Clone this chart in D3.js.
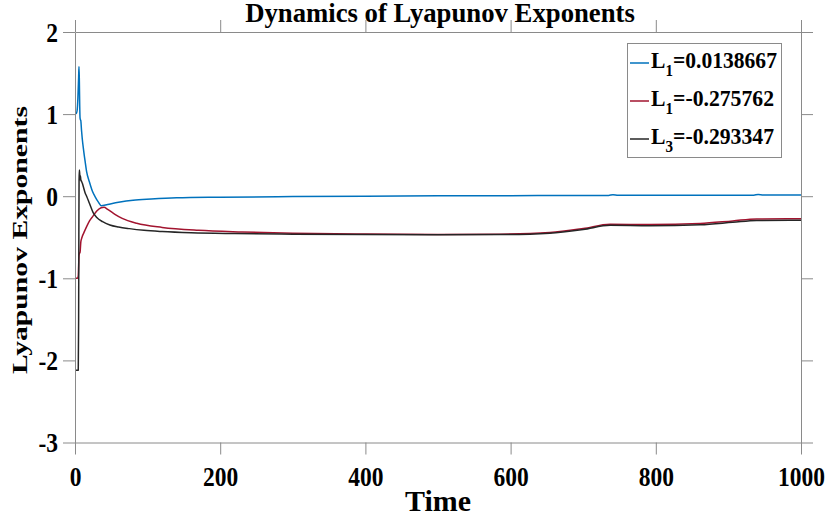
<!DOCTYPE html>
<html>
<head>
<meta charset="utf-8">
<script src="https://cdn.jsdelivr.net/npm/d3@7"></script>
<style>
  html, body { margin: 0; padding: 0; background: #fff; }
  svg text { font-family: "Times New Roman", Times, "Liberation Serif", "Nimbus Roman", serif; font-weight: bold; fill: #000; }
</style>
</head>
<body>
<svg id="chart" width="828" height="519"></svg>
<script>
// Axis ticks
const timeTicks = [0, 200, 400, 600, 800, 1000];
const expTicks = [-3, -2, -1, 0, 1, 2];

// Legend entries
const seriesNames = ["L", "L", "L"];
const seriesSubs = ["1", "1", "3"];
const finalValues = [0.0138667, -0.275762, -0.293347];
const seriesColors = ["#0072BD", "#A2142F", "#262626"];

// First exponent
const t1 = [0, 2, 3, 4, 5, 5.5, 6, 6.5, 7, 7.5, 8, 9, 10, 12, 14, 16, 20, 24, 28, 32, 36, 45, 60, 80, 105, 140, 200, 300, 400, 500, 600, 700, 735, 741, 748, 800, 870, 935, 941, 948, 1000];
const l1 = [1.0, 1.01, 1.05, 1.2, 1.45, 1.58, 1.4, 1.1, 0.95, 0.93, 0.92, 0.8, 0.7, 0.55, 0.42, 0.3, 0.17, 0.06, -0.01, -0.07, -0.115, -0.1, -0.075, -0.05, -0.035, -0.02, -0.012, -0.005, 0.0, 0.004, 0.007, 0.009, 0.01, 0.018, 0.011, 0.012, 0.013, 0.013, 0.02, 0.014, finalValues[0]];

// Second exponent
const t2 = [0, 3.5, 4.5, 5, 5.5, 6, 7, 8, 9, 10, 12, 16, 20, 25, 30, 36, 40, 45, 55, 65, 85, 120, 170, 230, 300, 400, 500, 585, 654, 700, 737, 792, 861, 906, 939, 1000];
const l2 = [-1.0, -1.0, -0.97, -0.85, -0.72, -0.7, -0.68, -0.56, -0.52, -0.49, -0.45, -0.37, -0.3, -0.24, -0.18, -0.14, -0.135, -0.16, -0.22, -0.27, -0.33, -0.38, -0.415, -0.435, -0.45, -0.46, -0.465, -0.462, -0.443, -0.394, -0.341, -0.346, -0.333, -0.301, -0.277, finalValues[1]];

// Third exponent
const t3 = [0, 4.5, 5, 5.3, 5.6, 6, 6.5, 7, 7.5, 8, 9, 10, 12, 14, 16, 20, 25, 30, 38, 48, 60, 75, 95, 120, 160, 220, 300, 400, 500, 585, 654, 700, 737, 792, 861, 906, 939, 1000];
const l3 = [-2.12, -2.12, -1.5, -0.5, 0.2, 0.32, 0.27, 0.2, 0.25, 0.2, 0.18, 0.16, 0.1, 0.04, 0.0, -0.09, -0.2, -0.26, -0.31, -0.35, -0.375, -0.395, -0.415, -0.43, -0.445, -0.455, -0.462, -0.468, -0.47, -0.468, -0.45, -0.405, -0.355, -0.36, -0.348, -0.318, -0.295, finalValues[2]];

const seriesTimes = [t1, t2, t3];
const seriesValues = [l1, l2, l3];

const FONT = '"Times New Roman", Times, "Liberation Serif", "Nimbus Roman", serif';
const svg = d3.select("#chart");
const box = { left: 75, right: 801, top: 32, bottom: 442.5 };
const axisColor = "#8a8a8a";
const tickLen = 12;

const x = d3.scaleLinear().domain([0, 1000]).range([box.left, box.right]);
const y = d3.scaleLinear().domain([-3, 2]).range([box.bottom, box.top]);

// Squeeze a text element horizontally so its advance width equals `target`.
function fitWidth(sel, target) {
  sel.each(function () {
    const w = this.getBBox().width;
    const prev = d3.select(this).attr("transform") || "";
    d3.select(this).attr("transform", prev + ` scale(${target / w},1)`);
  });
}

// Clip region for the data
svg.append("defs").append("clipPath").attr("id", "plotClip")
  .append("rect")
  .attr("x", box.left).attr("y", box.top)
  .attr("width", box.right - box.left).attr("height", box.bottom - box.top);

// Curves
const line = d3.line().curve(d3.curveMonotoneX)
  .x(d => x(d[0])).y(d => y(d[1]));

const plot = svg.append("g").attr("clip-path", "url(#plotClip)");
seriesTimes.forEach((ts, i) => {
  const pts = ts.map((t, k) => [t, seriesValues[i][k]]);
  plot.append("path")
    .attr("d", line(pts))
    .attr("fill", "none")
    .attr("stroke", seriesColors[i])
    .attr("stroke-width", 1.5)
    .attr("stroke-linejoin", "round");
});

// Axes: ticks point outward on all four sides
function styleAxis(g) {
  g.attr("font-family", FONT);
  g.select(".domain").attr("stroke", axisColor).attr("stroke-width", 1);
  g.selectAll(".tick line").attr("stroke", axisColor).attr("stroke-width", 1);
}
const plainNumber = d => String(d);

const gBottom = svg.append("g").attr("transform", `translate(0,${box.bottom})`)
  .call(d3.axisBottom(x).tickValues(timeTicks).tickSize(tickLen).tickSizeOuter(0).tickFormat(plainNumber));
styleAxis(gBottom);
gBottom.selectAll(".tick text")
  .attr("y", 43.5).attr("dy", 0)
  .attr("font-size", 27).attr("fill", "#000")
  .attr("transform", "scale(0.87,1)");

const gLeft = svg.append("g").attr("transform", `translate(${box.left},0)`)
  .call(d3.axisLeft(y).tickValues(expTicks).tickSize(tickLen).tickSizeOuter(0).tickFormat(plainNumber));
styleAxis(gLeft);
gLeft.selectAll(".tick text")
  .attr("x", -17 / 0.87).attr("dy", "0.35em")
  .attr("font-size", 27).attr("fill", "#000")
  .attr("transform", "scale(0.87,1)");

const gTop = svg.append("g").attr("transform", `translate(0,${box.top})`)
  .call(d3.axisTop(x).tickValues(timeTicks).tickSize(tickLen).tickSizeOuter(0).tickFormat(""));
styleAxis(gTop);

const gRight = svg.append("g").attr("transform", `translate(${box.right},0)`)
  .call(d3.axisRight(y).tickValues(expTicks).tickSize(tickLen).tickSizeOuter(0).tickFormat(""));
styleAxis(gRight);

// Title and axis labels
svg.append("text")
  .attr("transform", "translate(440,22)")
  .attr("text-anchor", "middle")
  .attr("font-size", 28)
  .text("Dynamics of Lyapunov Exponents")
  .call(fitWidth, 390);

svg.append("text")
  .attr("transform", "translate(438,511)")
  .attr("text-anchor", "middle")
  .attr("font-size", 28.7)
  .text("Time")
  .call(fitWidth, 66);

const yLab = svg.append("text")
  .attr("text-anchor", "middle")
  .attr("font-size", 29)
  .text("Lyapunov Exponents");
{
  const w = yLab.node().getBBox().width;
  yLab.attr("transform", `translate(27,240) rotate(-90) scale(${268 / w},0.73)`);
}

// Legend
const legend = svg.append("g");
legend.append("rect")
  .attr("x", 627.5).attr("y", 43.5).attr("width", 154).attr("height", 114)
  .attr("fill", "#fff").attr("stroke", "#8a8a8a").attr("stroke-width", 1);

const rowY = [63, 101, 139];
seriesNames.forEach((name, i) => {
  legend.append("line")
    .attr("x1", 630).attr("x2", 649)
    .attr("y1", rowY[i]).attr("y2", rowY[i])
    .attr("stroke", seriesColors[i]).attr("stroke-width", 1.5);
  const txt = legend.append("text")
    .attr("transform", `translate(651,${rowY[i] + 5})`)
    .attr("font-size", 23);
  txt.append("tspan").text(name);
  txt.append("tspan").attr("font-size", 16).attr("dy", 8).text(seriesSubs[i]);
  txt.append("tspan").attr("dy", -8).text("=" + finalValues[i]);
  txt.call(fitWidth, i === 0 ? 126 : 123);
});
</script>
</body>
</html>
